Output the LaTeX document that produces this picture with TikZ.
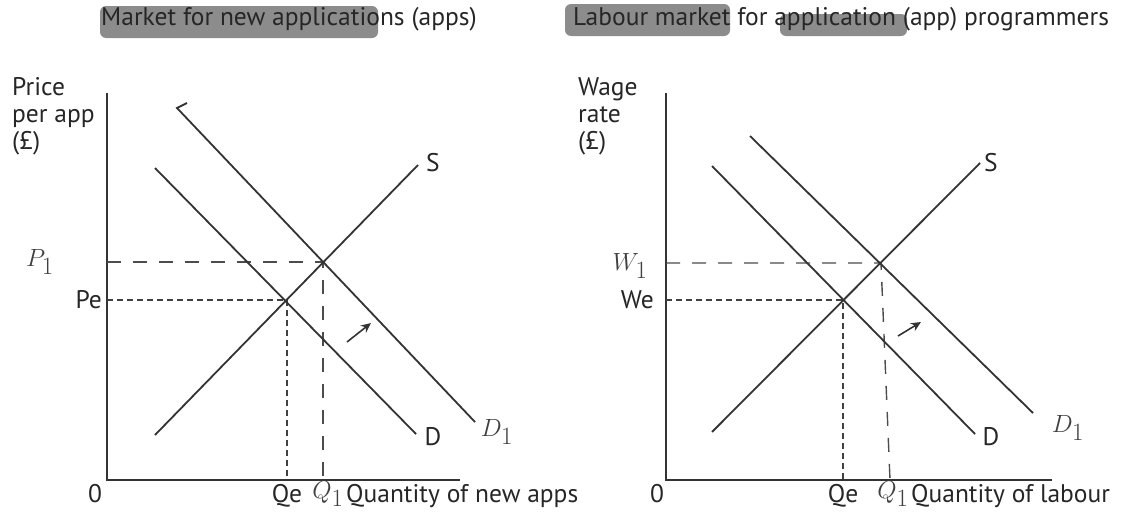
\documentclass[tikz,border=0pt]{standalone}
\usepackage{fontspec}
\setmainfont{PT Sans}
\usetikzlibrary{arrows.meta}
\begin{document}
\begin{tikzpicture}[x=1pt,y=-1pt,
  ink/.style={draw=black!80, line width=1.8pt},
  axisline/.style={draw=black!80, line width=2.2pt},
  fine/.style={draw=black!75, line width=1.6pt, dash pattern=on 6pt off 4pt},
  coarse/.style={draw=black!70, line width=1.4pt, dash pattern=on 14pt off 12pt},
  lbl/.style={text=black!85, font=\fontsize{25.5}{27}\selectfont, inner sep=0pt},
  hand/.style={text=black!75, font=\fontsize{38}{40}\selectfont, inner sep=0pt},
  hilite/.style={fill=black!45, rounded corners=6pt},
  shiftarrow/.style={draw=black!80, line width=1.6pt, -{Stealth[length=10pt,width=9pt]}}
]
\useasboundingbox (0,0) rectangle (1126,525);
% highlights
\fill[hilite] (100,6) rectangle (378,38);
\fill[hilite] (565,4) rectangle (730,36);
\fill[hilite] (780,14) rectangle (907,36);
% titles
\node[lbl] (t1) at (289,19) {Market for new applications (apps)};
\node[lbl] (t2) at (841,19) {Labour market for application (app) programmers};

% ===== left chart =====
\coordinate (lo) at (107,480);
\coordinate (ly) at (107,93);
\coordinate (lx) at (460,480);
\draw[axisline] (ly) -- (lo) -- (lx);
\coordinate (le) at (287,300);
\coordinate (le1) at (323,262);
\coordinate (lpe) at (107,300);
\coordinate (lqe) at (287,480);
\coordinate (lp1) at (107,262);
\coordinate (lq1) at (323,480);
\draw[fine] (lpe) -- (le) -- (lqe);
\draw[coarse] (lp1) -- (le1) -- (lq1);
\coordinate (ls1) at (155,435);
\coordinate (ls2) at (418,165);
\coordinate (ld1) at (155,168);
\coordinate (ld2) at (416,434);
\coordinate (ldd1) at (177,108);
\coordinate (ldd2) at (475,422);
\coordinate (ltick) at (187,103);
\draw[ink] (ls1) -- (ls2);
\draw[ink] (ld1) -- (ld2);
\draw[ink] (ltick) -- (ldd1) -- (ldd2);
\coordinate (la1) at (347,342);
\coordinate (la2) at (371,323);
\draw[shiftarrow] (la1) -- (la2);
\node[lbl, anchor=west, align=left] (lyl) at (12,116) {Price\\per app\\(£)};
\node[lbl, anchor=east] (lpelbl) at (102,300) {Pe};
\node[hand] (lp1lbl) at (40,262) {$P_1$};
\node[lbl] (l0) at (95,494) {0};
\node[lbl] (lqel) at (287,496) {Qe};
\node[hand] (lq1l) at (328,494) {$Q_1$};
\node[lbl, anchor=west] (lxl) at (346,496) {Quantity of new apps};
\node[lbl] (lsl) at (433,163) {S};
\node[lbl] (ldl) at (433,437) {D};
\node[hand] (ld1l) at (497,432) {$D_1$};

% ===== right chart =====
\coordinate (ro) at (666,480);
\coordinate (ry) at (666,93);
\coordinate (rx) at (1052,480);
\draw[axisline] (ry) -- (ro) -- (rx);
\coordinate (re) at (843,300);
\coordinate (re1) at (881,263);
\coordinate (rwe) at (666,300);
\coordinate (rqe) at (843,480);
\coordinate (rw1) at (666,263);
\coordinate (rq1) at (890,480);
\draw[fine] (rwe) -- (re) -- (rqe);
\draw[coarse] (rw1) -- (re1) -- (rq1);
\coordinate (rs1) at (712,432);
\coordinate (rs2) at (980,163);
\coordinate (rd1) at (712,166);
\coordinate (rd2) at (975,434);
\coordinate (rdd1) at (750,136);
\coordinate (rdd2) at (1033,413);
\draw[ink] (rs1) -- (rs2);
\draw[ink] (rd1) -- (rd2);
\draw[ink] (rdd1) -- (rdd2);
\coordinate (ra1) at (898,336);
\coordinate (ra2) at (921,322);
\draw[shiftarrow] (ra1) -- (ra2);
\node[lbl, anchor=west, align=left] (ryl) at (578,116) {Wage\\rate\\(£)};
\node[lbl, anchor=east] (rwelbl) at (654,300) {We};
\node[hand] (rw1lbl) at (630,266) {$W_1$};
\node[lbl] (r0) at (657,494) {0};
\node[lbl] (rqel) at (843,496) {Qe};
\node[hand] (rq1l) at (893,494) {$Q_1$};
\node[lbl, anchor=west] (rxl) at (911,496) {Quantity of labour};
\node[lbl] (rsl) at (991,163) {S};
\node[lbl] (rdl) at (991,437) {D};
\node[hand] (rd1l) at (1068,428) {$D_1$};
\end{tikzpicture}
\end{document}
